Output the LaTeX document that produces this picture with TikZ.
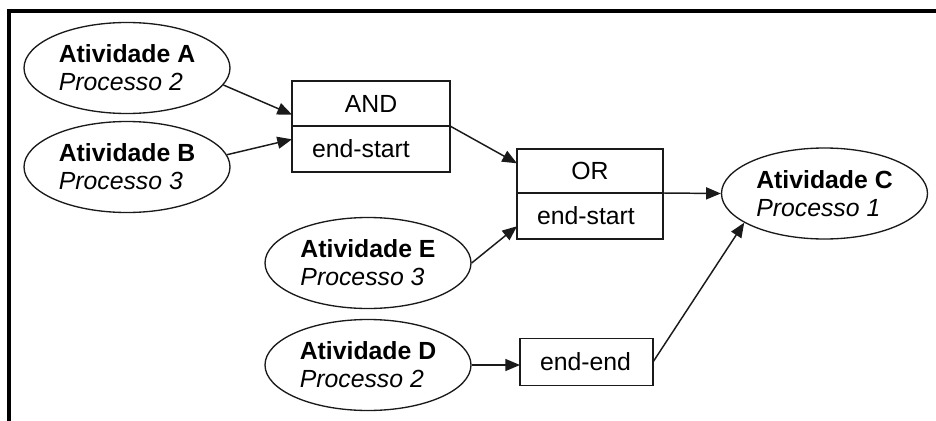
\documentclass[tikz,border=0pt]{standalone}
\usepackage{fontspec}
\setmainfont{Liberation Sans}
\usepackage{tikz}
\usetikzlibrary{arrows.meta,positioning,shapes.geometric}
\definecolor{Ink}{HTML}{1A1A1A}
\tikzset{
  act/.style={ellipse, draw=Ink, line width=1pt, inner sep=0pt, align=left, minimum width=154.5pt, minimum height=68.25pt, font=\fontsize{18.6}{21}\selectfont},
  opbox/.style={rectangle, draw=Ink, line width=1pt, outer sep=0pt, inner sep=0pt, align=center, minimum height=33.75pt, font=\fontsize{18.6}{21}\selectfont},
  relbox/.style={rectangle, draw=Ink, line width=1pt, outer sep=0pt, inner xsep=15pt, inner ysep=0pt, align=left, minimum height=34.5pt, font=\fontsize{18.6}{21}\selectfont},
  arrow/.style={-{Triangle[length=11pt, width=9pt]}, line width=1.1pt, draw=Ink},
  frame/.style={line width=2.4pt, draw=black}
}
\newcommand{\act}[2]{\textbf{Atividade #1}\\\textit{Processo #2}}

\begin{document}
\begin{tikzpicture}[x=0.75pt, y=-0.75pt]
\useasboundingbox (0,0) rectangle (936,421);
\draw[frame] (936,11) -- (9,11) -- (9,421);
% atividades
\node[act] (actA) at (127,68) {\act{A}{2}};
\node[act] (actB) at (127,167) {\act{B}{3}};
\node[act] (actE) at (368,263) {\act{E}{3}};
\node[act] (actD) at (368,365) {\act{D}{2}};
\node[act] (actC) at (824.5,193.5) {\act{C}{1}};
% relacoes
\node[opbox, minimum width=118.5pt] (andtop) at (371,103.5) {AND};
\node[relbox, below=0pt of andtop, text width=88.5pt] (andbot) {end-start};
\node[opbox, minimum width=109.5pt, minimum height=33pt] (ortop) at (590,171) {OR};
\node[relbox, below=0pt of ortop, text width=79.5pt] (orbot) {end-start};
\node[relbox, text width=69.75pt, minimum height=35.25pt] (endend) at (586.5,362) {end-end};
\draw[arrow] (actA.350) -- (andtop.188);
\draw[arrow] (actB.7) -- (andbot.173);
\draw[arrow] (andtop.south east) -- (ortop.174);
\draw[arrow] (actE.east) -- (orbot.188);
\draw[arrow] (ortop.south east) -- (actC.west);
\draw[arrow] (actD.east) -- (actD.east -| endend.west);
\draw[arrow] (endend.east) -- (actC.200);
\end{tikzpicture}
\end{document}
